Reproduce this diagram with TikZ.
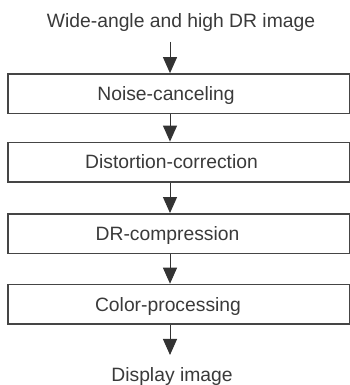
\documentclass[tikz,border=0pt]{standalone}
\usepackage{fontspec}
\setmainfont{Liberation Sans}
\usetikzlibrary{arrows.meta}
\definecolor{txt}{HTML}{3A3A3A}
\definecolor{edge}{HTML}{454545}
\tikzset{
  stepbox/.style={draw=edge, line width=1.7pt, minimum width=342pt, minimum height=39.5pt, inner sep=0pt, fill=white},
  lbl/.style={text=txt, inner sep=0pt, anchor=base, font=\fontsize{19.3pt}{22pt}\selectfont},
  arr/.style={draw=black!80, line width=1pt, -{Triangle[width=14pt,length=16pt]}},
}
\begin{document}
\begin{tikzpicture}[x=1pt,y=1pt]
\useasboundingbox (0,0) rectangle (349,385);
\fill[white] (0,0) rectangle (349,385);
% boxes
\node[stepbox] (b1) at (179,291.25) {};
\node[stepbox] (b2) at (179,222.8) {};
\node[stepbox] (b3) at (179,151.35) {};
\node[stepbox] (b4) at (179,80.7) {};
% texts
\node[lbl] (title) at (181,357.3) {Wide-angle and high DR image};
\node[lbl] (t1) at (166,291.25-6.8) {Noise-canceling};
\node[lbl] (t2) at (171.5,222.8-6.8) {Distortion-correction};
\node[lbl] (t3) at (167.5,151.35-6.8) {DR-compression};
\node[lbl] (t4) at (168,80.7-6.8) {Color-processing};
\node[lbl] (disp) at (172,4) {Display image};
% arrow axis
\coordinate (ax) at (170,0);
\coordinate (s0) at (170,343);
\coordinate (e4) at (170,30);
\draw[arr] (s0) -- (b1.north -| ax);
\draw[arr] (b1.south -| ax) -- (b2.north -| ax);
\draw[arr] (b2.south -| ax) -- (b3.north -| ax);
\draw[arr] (b3.south -| ax) -- (b4.north -| ax);
\draw[arr] (b4.south -| ax) -- (e4);
\end{tikzpicture}
\end{document}
